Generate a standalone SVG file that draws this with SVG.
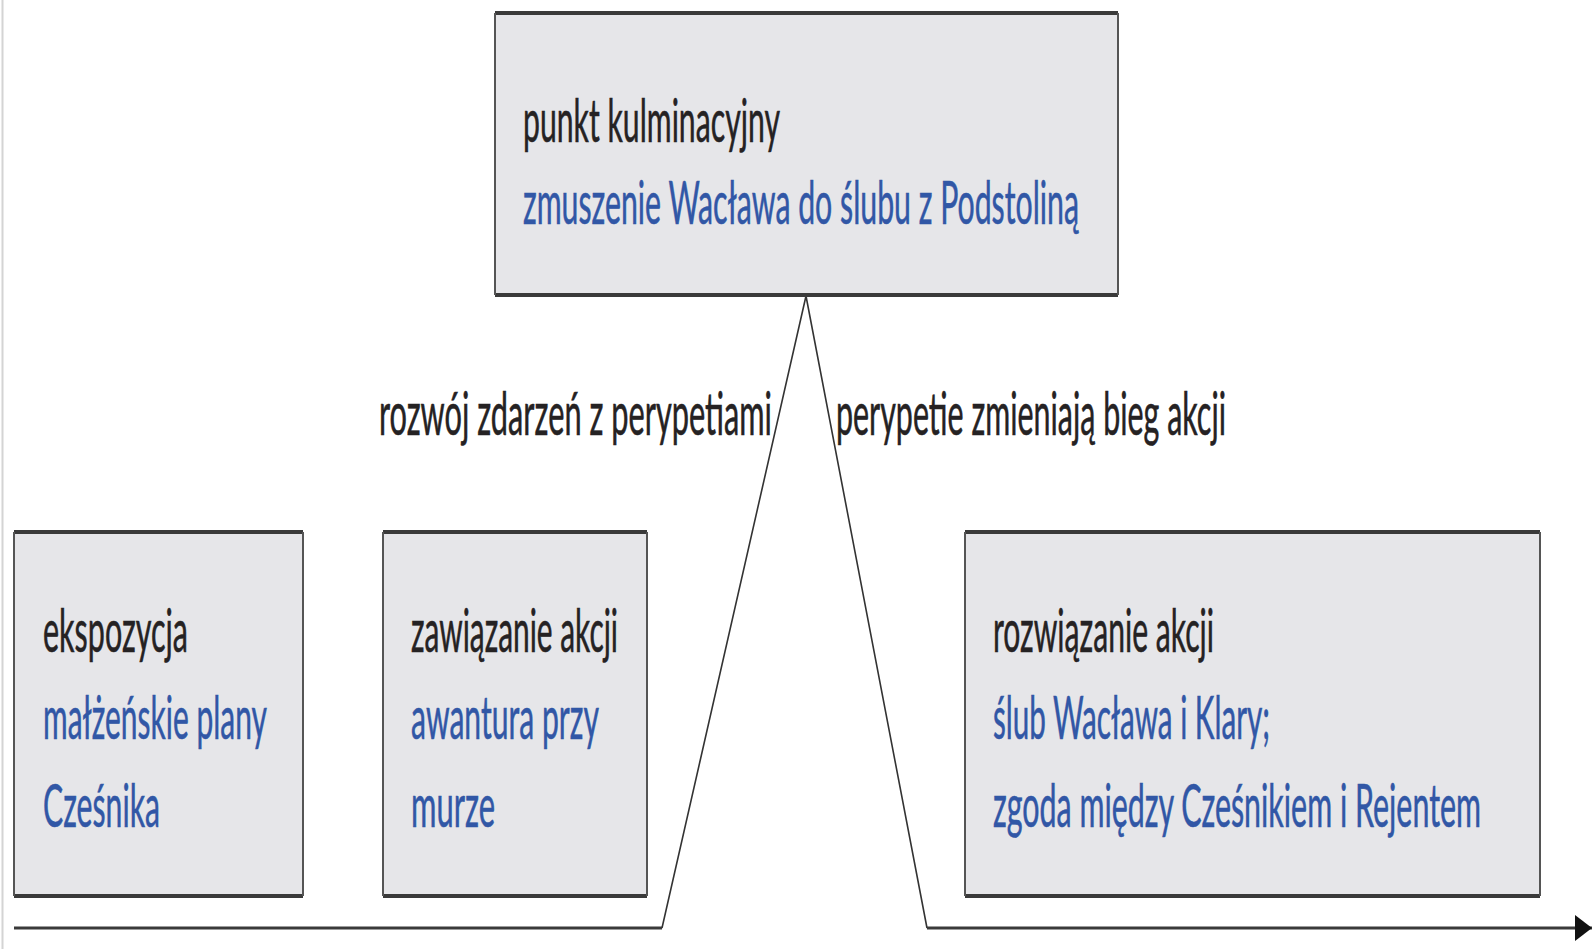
<svg xmlns="http://www.w3.org/2000/svg" width="1593" height="949" viewBox="0 0 1593 949">
<style>
.box{fill:#e6e6e9;stroke:none}
.hb{stroke:#3a3a3a;stroke-width:4;fill:none}
.vb{stroke:#555;stroke-width:2;fill:none}
text{font-family:Lato,"Liberation Sans","DejaVu Sans",sans-serif;font-size:60px}
.k{fill:#252223;stroke:#252223;stroke-width:0.6}
.b{fill:#3157a6;stroke:#3157a6;stroke-width:0.6}
.ln{stroke:#333;stroke-width:1.6;fill:none}
.hl{stroke:#3a3a3a;stroke-width:3;fill:none}
</style>
<defs>
<marker id="arr" markerUnits="userSpaceOnUse" markerWidth="18" markerHeight="26" refX="17" refY="13" orient="auto">
<path d="M0,0 L17,13 L0,26 Z" fill="#111"/>
</marker>
</defs>
<rect width="1593" height="949" fill="#fff"/>
<line x1="2.5" y1="0" x2="2.5" y2="949" stroke="#d4d4d4" stroke-width="2"/>

<g id="connectors">
<path class="hl" d="M14,928 H662"/>
<path class="ln" d="M662,928 L806,296 L927,928"/>
<path class="hl" d="M927,928 H1592" marker-end="url(#arr)"/>
</g>

<g id="punkt-kulminacyjny">
<rect class="box" x="495" y="13" width="623" height="283"/>
<path class="hb" d="M495,13 H1118 M495,295 H1118"/>
<path class="vb" d="M495,13 V295 M1118,13 V295"/>
<text class="k" x="523" y="142" textLength="257" lengthAdjust="spacingAndGlyphs">punkt kulminacyjny</text>
<text class="b" x="523" y="224" textLength="556" lengthAdjust="spacingAndGlyphs">zmuszenie Wacława do ślubu z Podstoliną</text>
</g>

<g id="label-rozwoj">
<text class="k" x="379" y="435" textLength="393" lengthAdjust="spacingAndGlyphs">rozwój zdarzeń z perypetiami</text>
</g>
<g id="label-perypetie">
<text class="k" x="836" y="435" textLength="390" lengthAdjust="spacingAndGlyphs">perypetie zmieniają bieg akcji</text>
</g>

<g id="ekspozycja">
<rect class="box" x="14" y="532" width="289" height="365"/>
<path class="hb" d="M14,532 H303 M14,896 H303"/>
<path class="vb" d="M14,532 V896 M303,532 V896"/>
<text class="k" x="43" y="652" textLength="145" lengthAdjust="spacingAndGlyphs">ekspozycja</text>
<text class="b" x="43" y="739" textLength="224" lengthAdjust="spacingAndGlyphs">małżeńskie plany</text>
<text class="b" x="43" y="827" textLength="117" lengthAdjust="spacingAndGlyphs">Cześnika</text>
</g>

<g id="zawiazanie-akcji">
<rect class="box" x="383" y="532" width="264" height="365"/>
<path class="hb" d="M383,532 H647 M383,896 H647"/>
<path class="vb" d="M383,532 V896 M647,532 V896"/>
<text class="k" x="411" y="652" textLength="207" lengthAdjust="spacingAndGlyphs">zawiązanie akcji</text>
<text class="b" x="411" y="739" textLength="188" lengthAdjust="spacingAndGlyphs">awantura przy</text>
<text class="b" x="411" y="827" textLength="84" lengthAdjust="spacingAndGlyphs">murze</text>
</g>

<g id="rozwiazanie-akcji">
<rect class="box" x="965" y="532" width="575" height="365"/>
<path class="hb" d="M965,532 H1540 M965,896 H1540"/>
<path class="vb" d="M965,532 V896 M1540,532 V896"/>
<text class="k" x="993" y="652" textLength="221" lengthAdjust="spacingAndGlyphs">rozwiązanie akcji</text>
<text class="b" x="993" y="739" textLength="277" lengthAdjust="spacingAndGlyphs">ślub Wacława i Klary;</text>
<text class="b" x="993" y="827" textLength="488" lengthAdjust="spacingAndGlyphs">zgoda między Cześnikiem i Rejentem</text>
</g>
</svg>
